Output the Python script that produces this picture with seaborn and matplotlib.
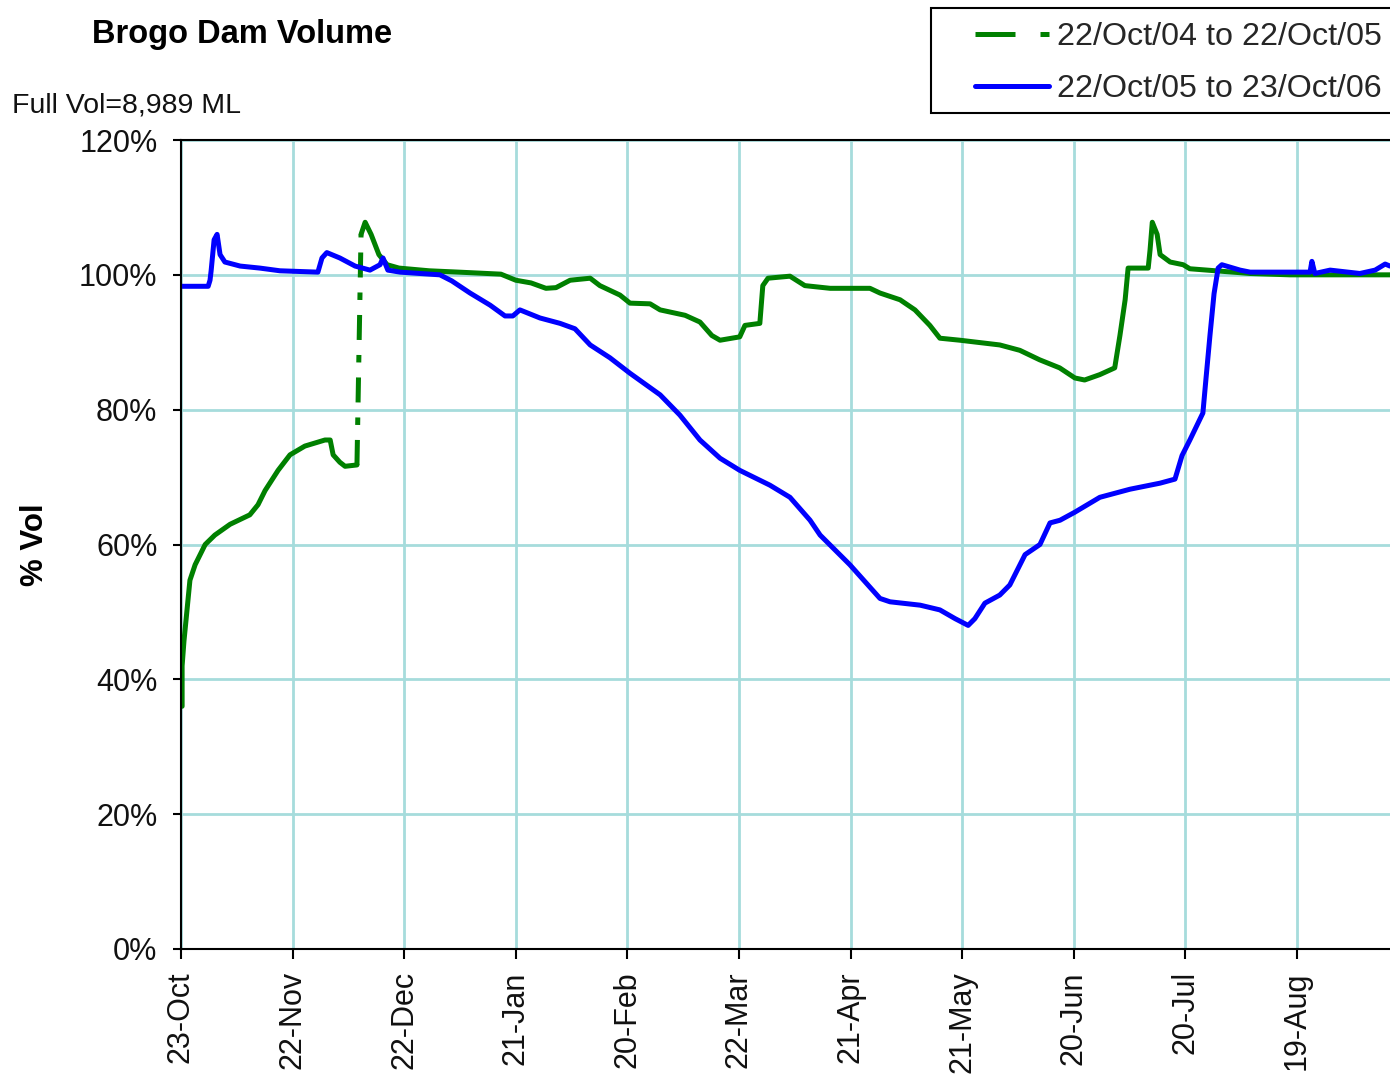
"""
Brogo Dam Volume - two seasons of storage (% of full volume)
"""

import pandas as pd
import matplotlib
matplotlib.use("Agg")
import matplotlib.pyplot as plt
import seaborn as sns
from matplotlib.lines import Line2D
from matplotlib.patches import Rectangle

# Days since 23-Oct and % of full volume
green_days = [0.3, 0.3, 0.8, 2.4, 3.8, 6.5, 9.1, 13.2, 18.5, 20.7, 22.6, 26.1, 29.3,
              33.3, 38.7, 40.1, 40.9, 42.7, 44.1, 47.3,
              48.4, 49.5, 51.1, 53.2, 55.4, 58.6, 66.7, 74.7, 86.0, 90.0, 94.1, 98.1,
              100.8, 104.6, 110.0, 112.6, 118.0, 120.7, 126.1, 128.8, 135.5, 139.5,
              142.7, 144.9, 150.2, 151.6, 155.6, 156.4, 157.8, 163.7, 167.7, 174.5,
              185.2, 187.9, 193.3, 197.3, 201.3, 204.0, 209.4, 220.1, 225.5, 230.8,
              236.2, 240.3, 242.9, 247.0, 251.0, 252.4, 253.8,
              254.6, 260.0, 260.5, 261.1, 262.4, 263.2, 265.9, 269.4, 271.2, 287.4,
              298.1, 325.0]
green_vals = [36.0, 42.0, 45.7, 54.7, 57.0, 60.0, 61.4, 63.0, 64.4, 65.9, 68.0, 71.0, 73.3,
              74.6, 75.5, 75.5, 73.3, 72.2, 71.6, 71.8,
              106.0, 107.8, 106.0, 103.0, 101.5, 101.0, 100.6, 100.4, 100.1, 99.2, 98.8, 98.0,
              98.1, 99.2, 99.5, 98.4, 97.0, 95.8, 95.7, 94.8, 94.0, 93.0,
              91.0, 90.3, 90.8, 92.5, 92.8, 98.4, 99.5, 99.8, 98.4, 98.0,
              98.0, 97.3, 96.3, 94.8, 92.5, 90.6, 90.3, 89.6, 88.8, 87.4,
              86.2, 84.7, 84.4, 85.2, 86.2, 91.0, 96.3,
              101.0, 101.0, 103.7, 107.8, 106.0, 103.0, 101.9, 101.5, 100.9, 100.2,
              100.0, 100.0]

blue_days = [0.0, 7.3, 7.8, 8.1, 8.9, 9.7, 10.5, 11.8, 15.9, 21.2, 26.6, 36.8, 37.9, 39.2,
             42.7, 46.8, 50.8, 53.5, 54.3, 55.6, 58.9, 69.6, 72.8, 77.7, 83.1, 87.1,
             89.2, 91.1, 96.5, 101.9, 105.9, 110.0, 115.3, 120.7, 128.8, 134.1, 139.5,
             144.9, 150.2, 158.3, 163.7, 169.1, 171.8, 179.8, 187.9, 190.6, 198.7,
             204.0, 208.1, 211.6, 213.4, 216.1, 220.1, 222.8, 226.9, 230.9, 233.6,
             236.3, 240.3, 247.0, 255.1, 263.2, 267.2, 269.1, 271.2, 274.7, 275.5,
             276.6, 277.7, 278.8, 279.8, 284.7, 287.4, 295.4, 303.5, 304.0, 304.8,
             308.9, 316.9, 321.0, 323.7, 325.0]
blue_vals = [98.3, 98.3, 99.2, 100.6, 105.2, 106.0, 103.0, 101.9, 101.3, 101.0, 100.6, 100.4,
             102.5, 103.3, 102.5, 101.3, 100.7, 101.5, 102.5, 100.7, 100.4, 100.0, 99.1,
             97.3, 95.5, 93.9, 93.9, 94.8, 93.6, 92.8, 92.0, 89.6, 87.7, 85.4, 82.2,
             79.2, 75.5, 72.8, 71.0, 68.8, 67.0, 63.6, 61.4, 57.0, 52.0, 51.5, 51.0,
             50.3, 49.0, 48.0, 49.0, 51.3, 52.5, 54.0, 58.5, 60.0, 63.2, 63.6, 64.8,
             67.0, 68.2, 69.1, 69.7, 73.2, 75.5, 79.5, 84.4, 91.0, 97.2, 101.0, 101.5,
             100.7, 100.4, 100.4, 100.4, 102.0, 100.2, 100.7, 100.2, 100.7, 101.6, 101.3]

tick_days = [0, 30, 60, 90, 120, 150, 180, 210, 240, 270, 300]
tick_labels = ['23-Oct', '22-Nov', '22-Dec', '21-Jan', '20-Feb', '22-Mar',
               '21-Apr', '21-May', '20-Jun', '20-Jul', '19-Aug']
y_ticks = [0, 20, 40, 60, 80, 100, 120]

green_label = '22/Oct/04 to 22/Oct/05'
blue_label = '22/Oct/05 to 23/Oct/06'

GREEN = '#008000'
BLUE = '#0000ff'
GRID = '#a6dcdc'
FONT = ['Liberation Sans', 'DejaVu Sans']
LW = 3.6


def split_green(days, vals):
    """Break the green series at the big fill-up jump so it can be drawn dashed"""
    seg = 0
    segs = [0]
    jumps = []
    for i in range(1, len(days)):
        if abs(vals[i] - vals[i - 1]) > 20:
            seg += 1
            jumps.append(([days[i - 1], days[i]], [vals[i - 1], vals[i]]))
        segs.append(seg)
    df = pd.DataFrame({'day': days, 'vol': vals, 'seg': segs})
    return df, jumps


def main():
    sns.set_theme(style='white')
    plt.rcParams['font.family'] = FONT

    fig = plt.figure(figsize=(13.9, 10.9), dpi=100)
    ax = fig.add_axes([181 / 1390, 1 - 949 / 1090, 1 - 181 / 1390, (949 - 140) / 1090])

    green_df, jumps = split_green(green_days, green_vals)
    blue_df = pd.DataFrame({'day': blue_days, 'vol': blue_vals})

    sns.lineplot(data=green_df, x='day', y='vol', units='seg', estimator=None,
                 sort=False, color=GREEN, linewidth=LW, ax=ax, legend=False)
    for jx, jy in jumps:
        ax.plot(jx, jy, color=GREEN, linewidth=LW, dashes=(5, 3, 1.5, 3))
    sns.lineplot(data=blue_df, x='day', y='vol', sort=False, color=BLUE,
                 linewidth=LW, ax=ax, legend=False)

    ax.set_xlim(0, 325)
    ax.set_ylim(0, 120)
    ax.set_xticks(tick_days)
    ax.set_xticklabels(tick_labels, rotation=90)
    ax.set_yticks(y_ticks)
    ax.set_yticklabels([f'{v}%' for v in y_ticks])
    ax.set_xlabel('')
    ax.set_ylabel('')
    ax.grid(True, color=GRID, linewidth=2)
    ax.set_axisbelow(True)

    for side in ['left', 'bottom', 'top']:
        ax.spines[side].set_visible(True)
        ax.spines[side].set_color('black')
        ax.spines[side].set_linewidth(1.5)
    ax.spines['right'].set_visible(False)

    ax.tick_params(axis='y', direction='out', length=6, width=1.5, color='black',
                   labelsize=22, pad=11, left=True)
    ax.tick_params(axis='x', direction='out', length=7, width=1.5, color='black',
                   labelsize=22, pad=9, bottom=True)
    for lab in ax.get_xticklabels() + ax.get_yticklabels():
        lab.set_color('#111111')

    fig.text(242 / 1390, 1 - 34 / 1090, 'Brogo Dam Volume', ha='center', va='center',
             fontsize=23.5, fontweight='bold', color='black')
    fig.text(12 / 1390, 1 - 106 / 1090, 'Full Vol=8,989 ML', ha='left', va='center',
             fontsize=20.5, color='#111111')
    fig.text(35 / 1390, 1 - 545 / 1090, '% Vol', ha='center', va='center', rotation=90,
             fontsize=22.5, fontweight='bold', color='black')

    # legend box runs off the right edge like the original
    box = Rectangle((931 / 1390, 1 - 113 / 1090), 480 / 1390, 105 / 1090,
                    transform=fig.transFigure, facecolor='white', edgecolor='black',
                    linewidth=1.5, zorder=5)
    fig.patches.append(box)

    handles = [Line2D([], [], color=GREEN, linewidth=LW, dashes=(8, 5, 2, 5)),
               Line2D([], [], color=BLUE, linewidth=LW)]
    leg = fig.legend(handles, [green_label, blue_label], loc='upper left',
                     bbox_to_anchor=(975 / 1390, 1 - 22 / 1090), fontsize=23.2,
                     frameon=False, borderaxespad=0, borderpad=0,
                     handlelength=2.3, handletextpad=0.25, labelspacing=0.68)
    leg.set_zorder(6)

    fig.savefig('out.png', dpi=100, facecolor='white')
    plt.close(fig)


if __name__ == '__main__':
    main()
